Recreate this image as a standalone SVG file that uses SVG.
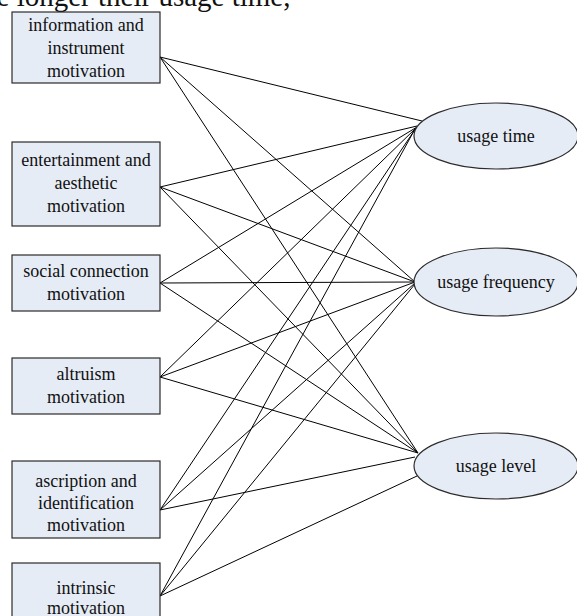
<svg xmlns="http://www.w3.org/2000/svg" width="577" height="616" viewBox="0 0 577 616">
<style>
.box{fill:#e6ecf6;stroke:#2b2b2b;stroke-width:1.2}
.ell{fill:#e6ecf6;stroke:#2b2b2b;stroke-width:1.2}
.t{font-family:"Liberation Serif","Times New Roman",serif;font-size:18px;fill:#111;text-anchor:middle}
.title{font-family:"Liberation Serif","Times New Roman",serif;font-size:29px;fill:#111}
#connectors line{stroke:#000;stroke-width:1}
</style>
<rect width="577" height="616" fill="#fff"/>
<text class="title" x="-26" y="6">the longer their usage time,</text>
<g id="connectors">
<line x1="160" y1="57" x2="422" y2="121"/>
<line x1="160" y1="57" x2="415" y2="282"/>
<line x1="160" y1="57" x2="418" y2="453"/>
<line x1="160" y1="187" x2="417" y2="126"/>
<line x1="160" y1="187" x2="415" y2="282"/>
<line x1="160" y1="187" x2="418" y2="453"/>
<line x1="160" y1="283" x2="417" y2="127"/>
<line x1="160" y1="283" x2="415" y2="282"/>
<line x1="160" y1="283" x2="418" y2="453"/>
<line x1="160" y1="377" x2="416" y2="128"/>
<line x1="160" y1="377" x2="415" y2="282"/>
<line x1="160" y1="377" x2="418" y2="453"/>
<line x1="160" y1="510" x2="416" y2="128"/>
<line x1="160" y1="510" x2="415" y2="283"/>
<line x1="160" y1="510" x2="415" y2="457"/>
<line x1="160" y1="596" x2="415" y2="129"/>
<line x1="160" y1="596" x2="415" y2="284"/>
<line x1="160" y1="596" x2="417" y2="476"/>
</g>
<g id="n1"><rect class="box" x="12" y="12" width="148" height="71"/><text class="t" x="86" y="31">information and</text><text class="t" x="86" y="54">instrument</text><text class="t" x="86" y="77">motivation</text></g>
<g id="n2"><rect class="box" x="12" y="142" width="148" height="84"/><text class="t" x="86" y="166">entertainment and</text><text class="t" x="86" y="189">aesthetic</text><text class="t" x="86" y="212">motivation</text></g>
<g id="n3"><rect class="box" x="12" y="255" width="148" height="56"/><text class="t" x="86" y="277">social connection</text><text class="t" x="86" y="300">motivation</text></g>
<g id="n4"><rect class="box" x="12" y="358" width="148" height="56"/><text class="t" x="86" y="380">altruism</text><text class="t" x="86" y="403">motivation</text></g>
<g id="n5"><rect class="box" x="12" y="461" width="148" height="77"/><text class="t" x="86" y="487">ascription and</text><text class="t" x="86" y="509">identification</text><text class="t" x="86" y="531">motivation</text></g>
<g id="n6"><rect class="box" x="12" y="563" width="148" height="60"/><text class="t" x="86" y="594">intrinsic</text><text class="t" x="86" y="614">motivation</text></g>
<g id="e1"><ellipse class="ell" cx="496" cy="136" rx="82" ry="33"/><text class="t" x="496" y="142">usage time</text></g>
<g id="e2"><ellipse class="ell" cx="496" cy="282" rx="82" ry="34"/><text class="t" x="496" y="288">usage frequency</text></g>
<g id="e3"><ellipse class="ell" cx="496" cy="466" rx="82" ry="33"/><text class="t" x="496" y="472">usage level</text></g>
</svg>
